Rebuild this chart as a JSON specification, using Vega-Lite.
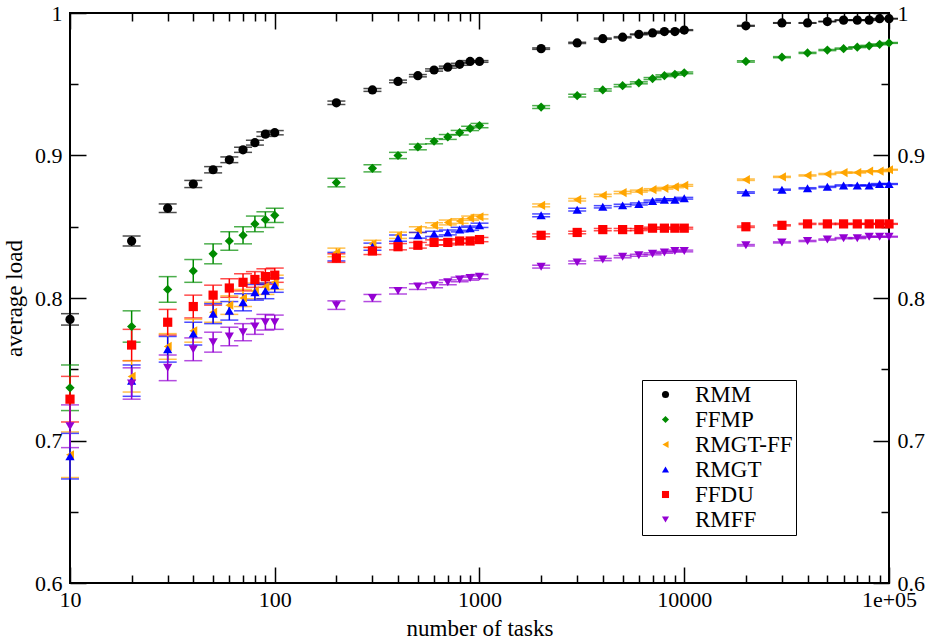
{
"$schema": "https://vega.github.io/schema/vega-lite/v6.json",
"width": 819, "height": 570,
"autosize": "none",
"padding": {"left": 70, "top": 13, "right": 42, "bottom": 56},
"background": "white",
"config": {
  "view": {"stroke": "black", "strokeWidth": 2},
  "font": "Liberation Serif",
  "axis": {"grid": false, "domain": false, "tickColor": "black", "tickWidth": 1.5, "labelFont": "Liberation Serif", "labelFontSize": 22, "labelColor": "black", "titleFont": "Liberation Serif", "titleFontSize": 23, "titleFontWeight": "normal", "titleColor": "black", "labelFlush": false, "labelOverlap": false},
  "legend": {"labelFont": "Liberation Serif", "labelFontSize": 23, "labelColor": "black", "labelLimit": 300}
},
"data": {"values": [
{"s":"RMM","n":10,"v":0.785,"e":0.004},{"s":"RMM","n":20,"v":0.840,"e":0.0035},{"s":"RMM","n":30,"v":0.863,"e":0.003},{"s":"RMM","n":40,"v":0.880,"e":0.0025},{"s":"RMM","n":50,"v":0.890,"e":0.0022},{"s":"RMM","n":60,"v":0.897,"e":0.002},{"s":"RMM","n":70,"v":0.904,"e":0.0018},{"s":"RMM","n":80,"v":0.909,"e":0.0017},{"s":"RMM","n":90,"v":0.915,"e":0.0016},{"s":"RMM","n":100,"v":0.916,"e":0.0015},
{"s":"RMM","n":200,"v":0.937,"e":0.0012},{"s":"RMM","n":300,"v":0.946,"e":0.001},{"s":"RMM","n":400,"v":0.952,"e":0.0009},{"s":"RMM","n":500,"v":0.956,"e":0.0008},{"s":"RMM","n":600,"v":0.960,"e":0.0008},{"s":"RMM","n":700,"v":0.962,"e":0.0007},{"s":"RMM","n":800,"v":0.964,"e":0.0007},{"s":"RMM","n":900,"v":0.966,"e":0.0006},{"s":"RMM","n":1000,"v":0.966,"e":0.0006},
{"s":"RMM","n":2000,"v":0.975,"e":0.0005},{"s":"RMM","n":3000,"v":0.979,"e":0.0004},{"s":"RMM","n":4000,"v":0.982,"e":0.0004},{"s":"RMM","n":5000,"v":0.983,"e":0.0004},{"s":"RMM","n":6000,"v":0.985,"e":0.0003},{"s":"RMM","n":7000,"v":0.986,"e":0.0003},{"s":"RMM","n":8000,"v":0.987,"e":0.0003},{"s":"RMM","n":9000,"v":0.987,"e":0.0003},{"s":"RMM","n":10000,"v":0.988,"e":0.0003},
{"s":"RMM","n":20000,"v":0.991,"e":0.0003},{"s":"RMM","n":30000,"v":0.993,"e":0.0002},{"s":"RMM","n":40000,"v":0.993,"e":0.0002},{"s":"RMM","n":50000,"v":0.994,"e":0.0002},{"s":"RMM","n":60000,"v":0.995,"e":0.0002},{"s":"RMM","n":70000,"v":0.995,"e":0.0002},{"s":"RMM","n":80000,"v":0.995,"e":0.0002},{"s":"RMM","n":90000,"v":0.996,"e":0.0002},{"s":"RMM","n":100000,"v":0.996,"e":0.0002},

{"s":"FFMP","n":10,"v":0.737,"e":0.016},{"s":"FFMP","n":20,"v":0.780,"e":0.011},{"s":"FFMP","n":30,"v":0.806,"e":0.009},{"s":"FFMP","n":40,"v":0.819,"e":0.008},{"s":"FFMP","n":50,"v":0.831,"e":0.007},{"s":"FFMP","n":60,"v":0.840,"e":0.0065},{"s":"FFMP","n":70,"v":0.844,"e":0.006},{"s":"FFMP","n":80,"v":0.852,"e":0.0055},{"s":"FFMP","n":90,"v":0.855,"e":0.0055},{"s":"FFMP","n":100,"v":0.858,"e":0.005},
{"s":"FFMP","n":200,"v":0.881,"e":0.003},{"s":"FFMP","n":300,"v":0.891,"e":0.0025},{"s":"FFMP","n":400,"v":0.900,"e":0.0022},{"s":"FFMP","n":500,"v":0.906,"e":0.002},{"s":"FFMP","n":600,"v":0.910,"e":0.0018},{"s":"FFMP","n":700,"v":0.913,"e":0.0017},{"s":"FFMP","n":800,"v":0.916,"e":0.0016},{"s":"FFMP","n":900,"v":0.919,"e":0.0015},{"s":"FFMP","n":1000,"v":0.921,"e":0.0015},
{"s":"FFMP","n":2000,"v":0.934,"e":0.001},{"s":"FFMP","n":3000,"v":0.942,"e":0.0009},{"s":"FFMP","n":4000,"v":0.946,"e":0.0008},{"s":"FFMP","n":5000,"v":0.949,"e":0.0008},{"s":"FFMP","n":6000,"v":0.951,"e":0.0007},{"s":"FFMP","n":7000,"v":0.954,"e":0.0007},{"s":"FFMP","n":8000,"v":0.956,"e":0.0006},{"s":"FFMP","n":9000,"v":0.957,"e":0.0006},{"s":"FFMP","n":10000,"v":0.958,"e":0.0006},
{"s":"FFMP","n":20000,"v":0.966,"e":0.0005},{"s":"FFMP","n":30000,"v":0.969,"e":0.0004},{"s":"FFMP","n":40000,"v":0.972,"e":0.0004},{"s":"FFMP","n":50000,"v":0.974,"e":0.0004},{"s":"FFMP","n":60000,"v":0.975,"e":0.0004},{"s":"FFMP","n":70000,"v":0.976,"e":0.0003},{"s":"FFMP","n":80000,"v":0.977,"e":0.0003},{"s":"FFMP","n":90000,"v":0.978,"e":0.0003},{"s":"FFMP","n":100000,"v":0.979,"e":0.0003},

{"s":"RMGT-FF","n":10,"v":0.690,"e":0.016},{"s":"RMGT-FF","n":20,"v":0.745,"e":0.011},{"s":"RMGT-FF","n":30,"v":0.766,"e":0.009},{"s":"RMGT-FF","n":40,"v":0.777,"e":0.008},{"s":"RMGT-FF","n":50,"v":0.790,"e":0.007},{"s":"RMGT-FF","n":60,"v":0.795,"e":0.0065},{"s":"RMGT-FF","n":70,"v":0.800,"e":0.006},{"s":"RMGT-FF","n":80,"v":0.805,"e":0.0055},{"s":"RMGT-FF","n":90,"v":0.808,"e":0.0055},{"s":"RMGT-FF","n":100,"v":0.811,"e":0.005},
{"s":"RMGT-FF","n":200,"v":0.832,"e":0.003},{"s":"RMGT-FF","n":300,"v":0.838,"e":0.0025},{"s":"RMGT-FF","n":400,"v":0.844,"e":0.0022},{"s":"RMGT-FF","n":500,"v":0.848,"e":0.002},{"s":"RMGT-FF","n":600,"v":0.851,"e":0.0018},{"s":"RMGT-FF","n":700,"v":0.853,"e":0.0017},{"s":"RMGT-FF","n":800,"v":0.854,"e":0.0016},{"s":"RMGT-FF","n":900,"v":0.856,"e":0.0015},{"s":"RMGT-FF","n":1000,"v":0.857,"e":0.0015},
{"s":"RMGT-FF","n":2000,"v":0.865,"e":0.001},{"s":"RMGT-FF","n":3000,"v":0.869,"e":0.0009},{"s":"RMGT-FF","n":4000,"v":0.872,"e":0.0008},{"s":"RMGT-FF","n":5000,"v":0.874,"e":0.0008},{"s":"RMGT-FF","n":6000,"v":0.875,"e":0.0007},{"s":"RMGT-FF","n":7000,"v":0.876,"e":0.0007},{"s":"RMGT-FF","n":8000,"v":0.877,"e":0.0006},{"s":"RMGT-FF","n":9000,"v":0.878,"e":0.0006},{"s":"RMGT-FF","n":10000,"v":0.879,"e":0.0006},
{"s":"RMGT-FF","n":20000,"v":0.883,"e":0.0005},{"s":"RMGT-FF","n":30000,"v":0.885,"e":0.0004},{"s":"RMGT-FF","n":40000,"v":0.886,"e":0.0004},{"s":"RMGT-FF","n":50000,"v":0.887,"e":0.0004},{"s":"RMGT-FF","n":60000,"v":0.888,"e":0.0004},{"s":"RMGT-FF","n":70000,"v":0.888,"e":0.0003},{"s":"RMGT-FF","n":80000,"v":0.889,"e":0.0003},{"s":"RMGT-FF","n":90000,"v":0.889,"e":0.0003},{"s":"RMGT-FF","n":100000,"v":0.890,"e":0.0003},

{"s":"RMGT","n":10,"v":0.689,"e":0.016},{"s":"RMGT","n":20,"v":0.742,"e":0.011},{"s":"RMGT","n":30,"v":0.764,"e":0.009},{"s":"RMGT","n":40,"v":0.775,"e":0.008},{"s":"RMGT","n":50,"v":0.789,"e":0.007},{"s":"RMGT","n":60,"v":0.791,"e":0.0065},{"s":"RMGT","n":70,"v":0.797,"e":0.006},{"s":"RMGT","n":80,"v":0.804,"e":0.0055},{"s":"RMGT","n":90,"v":0.805,"e":0.0055},{"s":"RMGT","n":100,"v":0.809,"e":0.005},
{"s":"RMGT","n":200,"v":0.829,"e":0.003},{"s":"RMGT","n":300,"v":0.836,"e":0.0025},{"s":"RMGT","n":400,"v":0.842,"e":0.0022},{"s":"RMGT","n":500,"v":0.844,"e":0.002},{"s":"RMGT","n":600,"v":0.845,"e":0.0018},{"s":"RMGT","n":700,"v":0.846,"e":0.0017},{"s":"RMGT","n":800,"v":0.848,"e":0.0016},{"s":"RMGT","n":900,"v":0.849,"e":0.0015},{"s":"RMGT","n":1000,"v":0.851,"e":0.0015},
{"s":"RMGT","n":2000,"v":0.858,"e":0.001},{"s":"RMGT","n":3000,"v":0.862,"e":0.0009},{"s":"RMGT","n":4000,"v":0.864,"e":0.0008},{"s":"RMGT","n":5000,"v":0.865,"e":0.0008},{"s":"RMGT","n":6000,"v":0.866,"e":0.0007},{"s":"RMGT","n":7000,"v":0.868,"e":0.0007},{"s":"RMGT","n":8000,"v":0.869,"e":0.0006},{"s":"RMGT","n":9000,"v":0.869,"e":0.0006},{"s":"RMGT","n":10000,"v":0.870,"e":0.0006},
{"s":"RMGT","n":20000,"v":0.874,"e":0.0005},{"s":"RMGT","n":30000,"v":0.876,"e":0.0004},{"s":"RMGT","n":40000,"v":0.877,"e":0.0004},{"s":"RMGT","n":50000,"v":0.878,"e":0.0004},{"s":"RMGT","n":60000,"v":0.879,"e":0.0004},{"s":"RMGT","n":70000,"v":0.879,"e":0.0003},{"s":"RMGT","n":80000,"v":0.879,"e":0.0003},{"s":"RMGT","n":90000,"v":0.880,"e":0.0003},{"s":"RMGT","n":100000,"v":0.880,"e":0.0003},

{"s":"FFDU","n":10,"v":0.729,"e":0.016},{"s":"FFDU","n":20,"v":0.767,"e":0.011},{"s":"FFDU","n":30,"v":0.783,"e":0.009},{"s":"FFDU","n":40,"v":0.794,"e":0.008},{"s":"FFDU","n":50,"v":0.802,"e":0.007},{"s":"FFDU","n":60,"v":0.807,"e":0.0065},{"s":"FFDU","n":70,"v":0.811,"e":0.006},{"s":"FFDU","n":80,"v":0.813,"e":0.0055},{"s":"FFDU","n":90,"v":0.815,"e":0.0055},{"s":"FFDU","n":100,"v":0.816,"e":0.005},
{"s":"FFDU","n":200,"v":0.828,"e":0.003},{"s":"FFDU","n":300,"v":0.833,"e":0.0025},{"s":"FFDU","n":400,"v":0.836,"e":0.0022},{"s":"FFDU","n":500,"v":0.837,"e":0.002},{"s":"FFDU","n":600,"v":0.839,"e":0.0018},{"s":"FFDU","n":700,"v":0.839,"e":0.0017},{"s":"FFDU","n":800,"v":0.840,"e":0.0016},{"s":"FFDU","n":900,"v":0.840,"e":0.0015},{"s":"FFDU","n":1000,"v":0.841,"e":0.0015},
{"s":"FFDU","n":2000,"v":0.844,"e":0.001},{"s":"FFDU","n":3000,"v":0.846,"e":0.0009},{"s":"FFDU","n":4000,"v":0.848,"e":0.0008},{"s":"FFDU","n":5000,"v":0.848,"e":0.0008},{"s":"FFDU","n":6000,"v":0.848,"e":0.0007},{"s":"FFDU","n":7000,"v":0.849,"e":0.0007},{"s":"FFDU","n":8000,"v":0.849,"e":0.0006},{"s":"FFDU","n":9000,"v":0.849,"e":0.0006},{"s":"FFDU","n":10000,"v":0.849,"e":0.0006},
{"s":"FFDU","n":20000,"v":0.850,"e":0.0005},{"s":"FFDU","n":30000,"v":0.851,"e":0.0004},{"s":"FFDU","n":40000,"v":0.852,"e":0.0004},{"s":"FFDU","n":50000,"v":0.852,"e":0.0004},{"s":"FFDU","n":60000,"v":0.852,"e":0.0004},{"s":"FFDU","n":70000,"v":0.852,"e":0.0003},{"s":"FFDU","n":80000,"v":0.852,"e":0.0003},{"s":"FFDU","n":90000,"v":0.852,"e":0.0003},{"s":"FFDU","n":100000,"v":0.852,"e":0.0003},

{"s":"RMFF","n":10,"v":0.710,"e":0.015},{"s":"RMFF","n":20,"v":0.740,"e":0.011},{"s":"RMFF","n":30,"v":0.751,"e":0.009},{"s":"RMFF","n":40,"v":0.764,"e":0.008},{"s":"RMFF","n":50,"v":0.769,"e":0.007},{"s":"RMFF","n":60,"v":0.773,"e":0.0065},{"s":"RMFF","n":70,"v":0.776,"e":0.006},{"s":"RMFF","n":80,"v":0.780,"e":0.0055},{"s":"RMFF","n":90,"v":0.783,"e":0.0055},{"s":"RMFF","n":100,"v":0.783,"e":0.005},
{"s":"RMFF","n":200,"v":0.795,"e":0.003},{"s":"RMFF","n":300,"v":0.800,"e":0.0025},{"s":"RMFF","n":400,"v":0.805,"e":0.0022},{"s":"RMFF","n":500,"v":0.808,"e":0.002},{"s":"RMFF","n":600,"v":0.809,"e":0.0018},{"s":"RMFF","n":700,"v":0.811,"e":0.0017},{"s":"RMFF","n":800,"v":0.813,"e":0.0016},{"s":"RMFF","n":900,"v":0.814,"e":0.0015},{"s":"RMFF","n":1000,"v":0.815,"e":0.0015},
{"s":"RMFF","n":2000,"v":0.822,"e":0.001},{"s":"RMFF","n":3000,"v":0.825,"e":0.0009},{"s":"RMFF","n":4000,"v":0.827,"e":0.0008},{"s":"RMFF","n":5000,"v":0.829,"e":0.0008},{"s":"RMFF","n":6000,"v":0.830,"e":0.0007},{"s":"RMFF","n":7000,"v":0.831,"e":0.0007},{"s":"RMFF","n":8000,"v":0.832,"e":0.0006},{"s":"RMFF","n":9000,"v":0.833,"e":0.0006},{"s":"RMFF","n":10000,"v":0.833,"e":0.0006},
{"s":"RMFF","n":20000,"v":0.837,"e":0.0005},{"s":"RMFF","n":30000,"v":0.839,"e":0.0004},{"s":"RMFF","n":40000,"v":0.840,"e":0.0004},{"s":"RMFF","n":50000,"v":0.841,"e":0.0004},{"s":"RMFF","n":60000,"v":0.842,"e":0.0004},{"s":"RMFF","n":70000,"v":0.842,"e":0.0003},{"s":"RMFF","n":80000,"v":0.843,"e":0.0003},{"s":"RMFF","n":90000,"v":0.843,"e":0.0003},{"s":"RMFF","n":100000,"v":0.843,"e":0.0003}
]},
"resolve": {"axis": {"x": "independent", "y": "independent"}},
"layer": [
  {
    "mark": {"type": "errorbar", "ticks": {"size": 18}, "thickness": 1.5},
    "encoding": {
      "x": {"field": "n", "type": "quantitative", "scale": {"type": "log", "domain": [10, 100000]},
        "axis": {"orient": "bottom", "values": [10, 100, 1000, 10000, 100000], "tickSize": -16, "labelPadding": 22, "title": "number of tasks", "titlePadding": 7,
          "labelExpr": "datum.value >= 100000 ? '1e+05' : format(datum.value, 'd')"}},
      "y": {"field": "v", "type": "quantitative", "scale": {"domain": [0.6, 1], "zero": false},
        "axis": {"orient": "left", "values": [0.6, 0.7, 0.8, 0.9, 1], "format": ".1~f", "tickSize": -16, "labelPadding": 24, "title": "average load", "titlePadding": 8}},
      "yError": {"field": "e"},
      "color": {"field": "s", "type": "nominal",
        "scale": {"domain": ["RMM", "FFMP", "RMGT-FF", "RMGT", "FFDU", "RMFF"], "range": ["#000000", "#008b00", "#ffa500", "#0000ff", "#ff0000", "#9400d3"]},
        "legend": {"title": null, "orient": "none", "legendX": 572, "legendY": 367, "strokeColor": "black", "padding": 3, "symbolSize": 50, "symbolOffset": 9, "labelOffset": 18, "rowPadding": 1, "symbolStrokeWidth": 0, "symbolOpacity": 1, "labelFontSize": 23, "symbolType": "circle"}}
    }
  },
  {
    "mark": {"type": "point", "filled": true, "size": 85, "opacity": 1},
    "encoding": {
      "x": {"field": "n", "type": "quantitative", "scale": {"type": "log", "domain": [10, 100000]},
        "axis": {"orient": "top", "values": [10, 100, 1000, 10000, 100000], "tickSize": -16, "labels": false, "title": null}},
      "y": {"field": "v", "type": "quantitative", "scale": {"domain": [0.6, 1], "zero": false},
        "axis": {"orient": "right", "values": [0.6, 0.7, 0.8, 0.9, 1], "format": ".1~f", "tickSize": -16, "labelPadding": 24, "title": null}},
      "color": {"field": "s", "type": "nominal",
        "scale": {"domain": ["RMM", "FFMP", "RMGT-FF", "RMGT", "FFDU", "RMFF"], "range": ["#000000", "#008b00", "#ffa500", "#0000ff", "#ff0000", "#9400d3"]},
        "legend": {"title": null, "orient": "none", "legendX": 572, "legendY": 367, "strokeColor": "black", "padding": 3, "symbolSize": 50, "symbolOffset": 9, "labelOffset": 18, "rowPadding": 1, "symbolStrokeWidth": 0, "symbolOpacity": 1, "labelFontSize": 23}},
      "shape": {"field": "s", "type": "nominal",
        "scale": {"domain": ["RMM", "FFMP", "RMGT-FF", "RMGT", "FFDU", "RMFF"], "range": ["circle", "diamond", "triangle-left", "triangle-up", "square", "triangle-down"]},
        "legend": {"title": null, "orient": "none", "legendX": 572, "legendY": 367, "strokeColor": "black", "padding": 3, "symbolSize": 50, "symbolOffset": 9, "labelOffset": 18, "rowPadding": 1, "symbolStrokeWidth": 0, "symbolOpacity": 1, "labelFontSize": 23}}
    }
  },
  {
    "mark": {"type": "point", "opacity": 0},
    "encoding": {
      "x": {"field": "n", "type": "quantitative", "scale": {"type": "log", "domain": [10, 100000]},
        "axis": {"orient": "bottom", "values": [20,30,40,50,60,70,80,90,200,300,400,500,600,700,800,900,2000,3000,4000,5000,6000,7000,8000,9000,20000,30000,40000,50000,60000,70000,80000,90000], "tickSize": -8, "labels": false, "title": null}},
      "y": {"field": "v", "type": "quantitative", "scale": {"domain": [0.6, 1], "zero": false},
        "axis": {"orient": "left", "values": [0.65, 0.75, 0.85, 0.95], "tickSize": -8, "labels": false, "title": null}}
    }
  },
  {
    "mark": {"type": "point", "opacity": 0},
    "encoding": {
      "x": {"field": "n", "type": "quantitative", "scale": {"type": "log", "domain": [10, 100000]},
        "axis": {"orient": "top", "values": [20,30,40,50,60,70,80,90,200,300,400,500,600,700,800,900,2000,3000,4000,5000,6000,7000,8000,9000,20000,30000,40000,50000,60000,70000,80000,90000], "tickSize": -8, "labels": false, "title": null}},
      "y": {"field": "v", "type": "quantitative", "scale": {"domain": [0.6, 1], "zero": false},
        "axis": {"orient": "right", "values": [0.65, 0.75, 0.85, 0.95], "tickSize": -8, "labels": false, "title": null}}
    }
  }
]
}
